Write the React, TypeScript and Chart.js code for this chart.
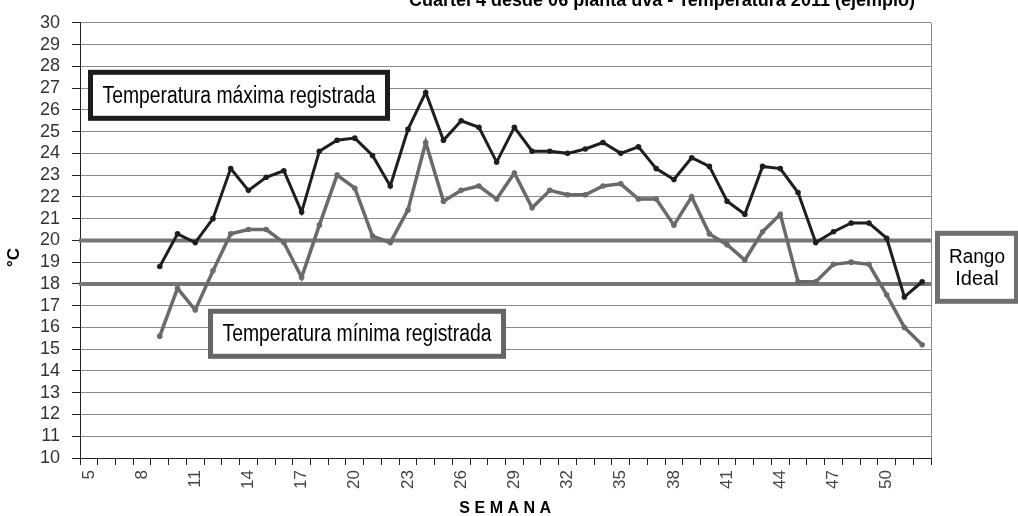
import React, { useEffect, useRef } from "react";
import { Chart, registerables } from "chart.js";

Chart.register(...registerables);

const weeks = [
  "5", "6", "7", "8", "9", "10", "11", "12", "13", "14", "15", "16",
  "17", "18", "19", "20", "21", "22", "23", "24", "25", "26", "27", "28",
  "29", "30", "31", "32", "33", "34", "35", "36", "37", "38", "39", "40",
  "41", "42", "43", "44", "45", "46", "47", "48", "49", "50", "51", "52",
];

// weeks 5-8 have no record
const maxTemps = [
  null, null, null, null,
  18.8, 20.3, 19.9, 21.0, 23.3, 22.3, 22.9, 23.2, 21.3, 24.1,
  24.6, 24.7, 23.9, 22.5, 25.1, 26.8, 24.6, 25.5, 25.2, 23.6,
  25.2, 24.1, 24.1, 24.0, 24.2, 24.5, 24.0, 24.3, 23.3, 22.8,
  23.8, 23.4, 21.8, 21.2, 23.4, 23.3, 22.2, 19.9, 20.4, 20.8,
  20.8, 20.1, 17.4, 18.1,
];

const minTemps = [
  null, null, null, null,
  15.6, 17.8, 16.8, 18.6, 20.3, 20.5, 20.5, 19.9, 18.3, 20.7,
  23.0, 22.4, 20.2, 19.9, 21.4, 24.5, 21.8, 22.3, 22.5, 21.9,
  23.1, 21.5, 22.3, 22.1, 22.1, 22.5, 22.6, 21.9, 21.9, 20.7,
  22.0, 20.3, 19.8, 19.1, 20.4, 21.2, 18.1, 18.1, 18.9, 19.0,
  18.9, 17.5, 16.0, 15.2,
];

const idealRange = [18, 20];
const yMin = 10;
const yMax = 30;

const titleText = "Cuartel 4 desde 06 planta uva - Temperatura 2011 (ejemplo)";
const xTitle = "SEMANA";
const yTitle = "°C";
const maxLabel = "Temperatura máxima registrada";
const minLabel = "Temperatura mínima registrada";
const rangeLabel = ["Rango", "Ideal"];

const FONT = "'Liberation Sans', Arial, sans-serif";

const decorPlugin = {
  id: "decor",
  beforeDatasetsDraw(chart: any) {
    const { ctx, chartArea, scales } = chart;
    const y = scales.y;
    ctx.save();
    ctx.strokeStyle = "#8a8a8a";
    ctx.lineWidth = 1;
    ctx.beginPath();
    ctx.moveTo(chartArea.right + 0.5, chartArea.top);
    ctx.lineTo(chartArea.right + 0.5, chartArea.bottom);
    ctx.stroke();
    ctx.strokeStyle = "#767676";
    ctx.lineWidth = 4;
    idealRange.forEach((v) => {
      const py = y.getPixelForValue(v);
      ctx.beginPath();
      ctx.moveTo(chartArea.left - 1, py);
      ctx.lineTo(chartArea.right, py);
      ctx.stroke();
    });
    ctx.restore();
  },
  afterDraw(chart: any) {
    const { ctx, chartArea } = chart;
    const L = chartArea.left;
    const T = chartArea.top;
    ctx.save();

    const box = (
      x: number, yy: number, w: number, h: number, color: string,
      lines: string[], size: number, maxW: number, lineH: number
    ) => {
      ctx.fillStyle = "#ffffff";
      ctx.fillRect(x, yy, w, h);
      ctx.strokeStyle = color;
      ctx.lineWidth = 5;
      ctx.strokeRect(x + 2.5, yy + 2.5, w - 5, h - 5);
      ctx.fillStyle = "#000000";
      ctx.font = `${size}px ${FONT}`;
      ctx.textAlign = "center";
      ctx.textBaseline = "middle";
      const cx = x + w / 2;
      const cy = yy + h / 2;
      lines.forEach((t, i) => {
        const off = (i - (lines.length - 1) / 2) * lineH;
        ctx.fillText(t, cx, cy + off + 1, maxW);
      });
    };

    box(L + 8, T + 47, 302, 51, "#1c1c1c", [maxLabel], 23, 273, 0);
    box(L + 128, T + 286, 298, 50, "#666666", [minLabel], 23, 269, 0);
    box(chartArea.right + 4, T + 208, 84, 73, "#707070", rangeLabel, 20, 56, 22);

    // title (partly above the canvas)
    ctx.fillStyle = "#000";
    ctx.font = `bold 18px ${FONT}`;
    ctx.textAlign = "center";
    ctx.textBaseline = "alphabetic";
    ctx.fillText(titleText, 662, 6, 525);

    // x title
    ctx.font = `bold 16px ${FONT}`;
    (ctx as any).letterSpacing = "4.5px";
    ctx.textBaseline = "middle";
    ctx.fillText(xTitle, (chartArea.left + chartArea.right) / 2 + 2, chartArea.bottom + 51);
    (ctx as any).letterSpacing = "0px";

    // y title
    ctx.translate(14, (chartArea.top + chartArea.bottom) / 2 + 17);
    ctx.rotate(-Math.PI / 2);
    ctx.font = `bold 17px ${FONT}`;
    ctx.fillText(yTitle, 0, 0);
    ctx.restore();
  },
};

export default function App() {
  const ref = useRef<HTMLCanvasElement | null>(null);

  useEffect(() => {
    if (!ref.current) return;
    Chart.defaults.font.family = FONT;
    const chart = new Chart(ref.current, {
      type: "line",
      data: {
        labels: weeks,
        datasets: [
          {
            label: maxLabel,
            data: maxTemps,
            borderColor: "#1e1e1e",
            backgroundColor: "#1e1e1e",
            borderWidth: 3,
            pointRadius: 2.8,
            pointBorderWidth: 0,
            pointBackgroundColor: "#1e1e1e",
            tension: 0,
            spanGaps: false,
          },
          {
            label: minLabel,
            data: minTemps,
            borderColor: "#6a6a6a",
            backgroundColor: "#6a6a6a",
            borderWidth: 3.5,
            pointRadius: 2.8,
            pointBorderWidth: 0,
            pointBackgroundColor: "#6a6a6a",
            tension: 0,
            spanGaps: false,
          },
        ],
      },
      options: {
        animation: false,
        responsive: false,
        events: [],
        layout: { padding: { top: 17, right: 87, bottom: 0, left: 0 } },
        plugins: {
          legend: { display: false },
          title: { display: false },
          tooltip: { enabled: false },
        },
        scales: {
          x: {
            type: "category",
            offset: true,
            grid: {
              offset: true,
              drawOnChartArea: false,
              drawTicks: true,
              tickLength: 7,
              tickColor: "#222",
              tickWidth: 1,
            },
            border: { color: "#222", width: 1 },
            ticks: {
              autoSkip: false,
              maxRotation: 90,
              minRotation: 90,
              padding: 5,
              color: "#444",
              font: { size: 17 },
              callback: (_v: any, i: number) => (i % 3 === 0 ? weeks[i] : ""),
            },
            afterFit: (s: any) => {
              s.height = 58;
            },
          },
          y: {
            min: yMin,
            max: yMax,
            grid: {
              color: "#8a8a8a",
              lineWidth: 1,
              drawTicks: true,
              tickLength: 8,
              tickColor: "#222",
            },
            border: { color: "#222", width: 1 },
            ticks: {
              stepSize: 1,
              autoSkip: false,
              padding: 12,
              color: "#333",
              font: { size: 18 },
            },
            afterFit: (s: any) => {
              s.width = 80;
            },
          },
        },
      },
      plugins: [decorPlugin],
    } as any);
    return () => chart.destroy();
  }, []);

  return (
    <div style={{ position: "fixed", left: 0, top: 0, width: 1018, height: 516, background: "#fff" }}>
      <canvas ref={ref} width={1018} height={516} style={{ width: 1018, height: 516 }} />
    </div>
  );
}
